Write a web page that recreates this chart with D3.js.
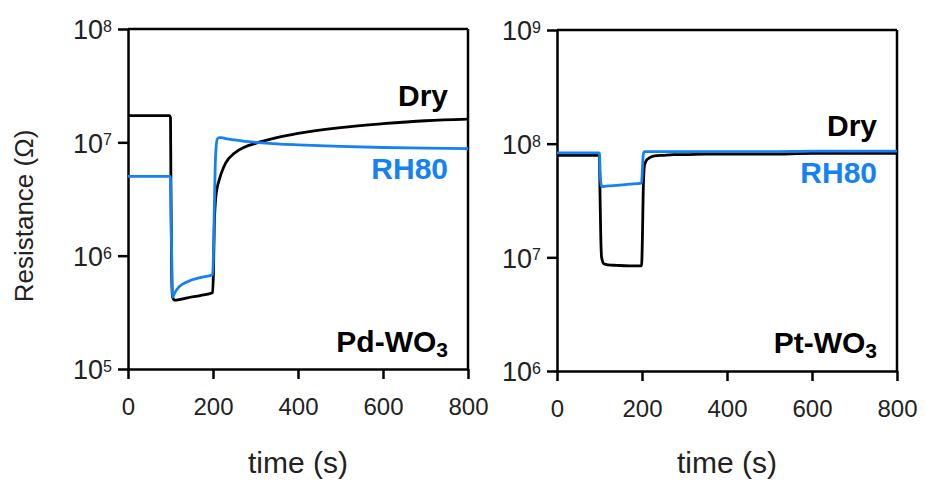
<!DOCTYPE html>
<html>
<head>
<meta charset="utf-8">
<script src="https://cdn.jsdelivr.net/npm/d3@7"></script>
<style>
  body { margin: 0; background: #fff; }
  text { font-family: "Liberation Sans", Arial, sans-serif; }
</style>
</head>
<body>
<div id="chart"></div>
<script>
// shared time grid (s)
var time = [0, 98, 100, 101, 103, 105, 110, 120, 140, 170, 199, 201, 203, 206, 210,
  215, 220, 230, 250, 275, 300, 350, 400, 500, 600, 700, 800];

// Pd-WO3 resistance (ohm)
var pdDry = [1.72e7, 1.72e7, 1.65e7, 4e6, 6e5, 4.3e5, 4.05e5, 4.1e5, 4.25e5, 4.45e5, 4.7e5,
  7e5, 1.8e6, 3.1e6, 4.0e6, 4.7e6, 5.4e6, 6.6e6, 8.0e6, 9.1e6, 9.8e6, 1.1e7, 1.2e7,
  1.35e7, 1.46e7, 1.55e7, 1.6e7];
var pdRH80 = [5.0e6, 5.0e6, 5.0e6, 2.5e6, 9e5, 4.3e5, 4.7e5, 5.3e5, 5.9e5, 6.4e5, 6.8e5,
  1.0e6, 2.5e6, 7.5e6, 1.07e7, 1.1e7, 1.1e7, 1.08e7, 1.05e7, 1.02e7, 1.0e7, 9.7e6,
  9.5e6, 9.2e6, 9.0e6, 8.9e6, 8.8e6];

// Pt-WO3 resistance (ohm)
var ptDry = [7.9e7, 7.9e7, 7.6e7, 4e7, 1.5e7, 1.0e7, 8.8e6, 8.6e6, 8.5e6, 8.4e6, 8.4e6,
  1.5e7, 4e7, 6.5e7, 7.1e7, 7.4e7, 7.6e7, 7.8e7, 7.9e7, 8.0e7, 8.0e7, 8.1e7, 8.1e7,
  8.1e7, 8.2e7, 8.2e7, 8.2e7];
var ptRH80 = [8.3e7, 8.3e7, 8.2e7, 6e7, 4.6e7, 4.2e7, 4.2e7, 4.25e7, 4.3e7, 4.4e7, 4.5e7,
  6e7, 8.0e7, 8.5e7, 8.5e7, 8.5e7, 8.5e7, 8.5e7, 8.5e7, 8.5e7, 8.5e7, 8.5e7, 8.5e7,
  8.5e7, 8.6e7, 8.6e7, 8.6e7];

var xTicks = [0, 200, 400, 600, 800];
var pdDecades = [5, 6, 7, 8];
var ptDecades = [6, 7, 8, 9];

var blue = "#1482f5";
var W = 925, H = 485;

var svg = d3.select("#chart").append("svg").attr("width", W).attr("height", H);

drawPanel({ left: 128, right: 468, top: 29, bottom: 369, decades: pdDecades,
  dry: pdDry, rh: pdRH80, name: "Pd-WO", dryY: 106, rhY: 179, nameY: 352 });
drawPanel({ left: 557, right: 897, top: 30, bottom: 371, decades: ptDecades,
  dry: ptDry, rh: ptRH80, name: "Pt-WO", dryY: 136, rhY: 183, nameY: 353 });

// y axis title
svg.append("text")
  .attr("transform", "translate(33,216) rotate(-90)")
  .attr("text-anchor", "middle")
  .style("font-size", "26px")
  .style("fill", "#222")
  .text("Resistance (\u03A9)");

function drawPanel(p) {
  var x = d3.scaleLinear().domain([0, 800]).range([p.left, p.right]);
  var y = d3.scaleLog()
    .domain([Math.pow(10, p.decades[0]), Math.pow(10, p.decades[p.decades.length - 1])])
    .range([p.bottom, p.top]);

  var g = svg.append("g");

  // frame top and right
  g.append("line").attr("x1", p.left).attr("x2", p.right).attr("y1", p.top).attr("y2", p.top)
    .attr("stroke", "#000").attr("stroke-width", 2.5);
  g.append("line").attr("x1", p.right).attr("x2", p.right).attr("y1", p.top).attr("y2", p.bottom)
    .attr("stroke", "#000").attr("stroke-width", 2.5);

  var xAxis = g.append("g")
    .attr("transform", "translate(0," + p.bottom + ")")
    .call(d3.axisBottom(x).tickValues(xTicks).tickSize(10).tickSizeOuter(0).tickPadding(19)
      .tickFormat(d3.format("d")));
  var yAxis = g.append("g")
    .attr("transform", "translate(" + p.left + ",0)")
    .call(d3.axisLeft(y).tickValues(p.decades.map(function (d) { return Math.pow(10, d); }))
      .tickSize(10).tickSizeOuter(0).tickPadding(6).tickFormat(""));

  [xAxis, yAxis].forEach(function (a) {
    a.select(".domain").attr("stroke-width", 2.5);
    a.selectAll(".tick line").attr("stroke-width", 2.5);
    a.selectAll("text").style("font-size", "24px").style("fill", "#222");
  });

  // superscript tick labels
  yAxis.selectAll(".tick text").style("font-size", "27px").each(function (d) {
    var t = d3.select(this).attr("dy", "0.36em");
    t.append("tspan").text("10");
    t.append("tspan").attr("dy", "-0.45em").style("font-size", "16px")
      .text(Math.round(Math.log10(d)));
  });

  var line = d3.line()
    .x(function (d, i) { return x(time[i]); })
    .y(function (d) { return y(d); })
    .curve(d3.curveMonotoneX);

  g.append("path").datum(p.dry).attr("d", line)
    .attr("fill", "none").attr("stroke", "#000").attr("stroke-width", 2.8);
  g.append("path").datum(p.rh).attr("d", line)
    .attr("fill", "none").attr("stroke", blue).attr("stroke-width", 2.8);

  var lx = p.right - 20;
  g.append("text").attr("x", lx).attr("y", p.dryY).attr("text-anchor", "end")
    .style("font-size", "30px").style("font-weight", "bold").style("fill", "#000")
    .text("Dry");
  g.append("text").attr("x", lx).attr("y", p.rhY).attr("text-anchor", "end")
    .style("font-size", "30px").style("font-weight", "bold").style("fill", blue)
    .text("RH80");

  var nm = g.append("text").attr("x", lx).attr("y", p.nameY).attr("text-anchor", "end")
    .style("font-size", "30px").style("font-weight", "bold").style("fill", "#000");
  nm.append("tspan").text(p.name);
  nm.append("tspan").attr("dy", "0.25em").style("font-size", "21px").text("3");

  svg.append("text")
    .attr("x", (p.left + p.right) / 2).attr("y", 473)
    .attr("text-anchor", "middle")
    .style("font-size", "30px").style("fill", "#222")
    .text("time (s)");
}
</script>
</body>
</html>
